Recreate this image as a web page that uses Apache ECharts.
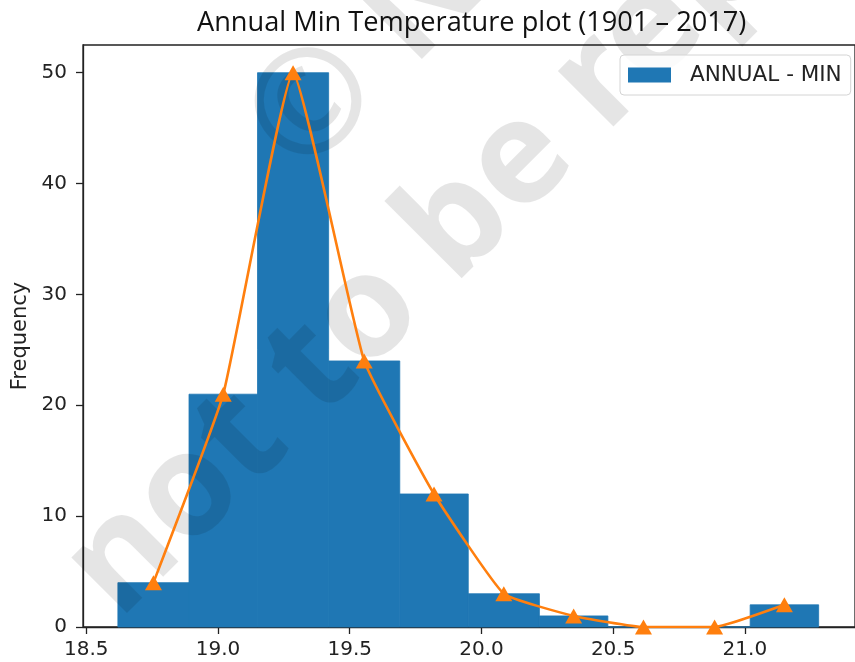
<!DOCTYPE html>
<html>
<head>
<meta charset="utf-8">
<script src="https://cdn.jsdelivr.net/npm/echarts@6/dist/echarts.min.js"></script>
<style>
  html, body { margin: 0; padding: 0; background: #ffffff; }
  #chart { width: 855px; height: 662px; }
</style>
</head>
<body>
<div id="chart"></div>
<script>
// Histogram of annual minimum temperature, 1901–2017 (10 bins)
const binStarts = [18.62, 18.89, 19.15, 19.42, 19.69, 19.95, 20.22, 20.48, 20.75, 21.02];
const binEnds   = [18.89, 19.15, 19.42, 19.69, 19.95, 20.22, 20.48, 20.75, 21.02, 21.28];
const frequencies = [4, 21, 50, 24, 12, 3, 1, 0, 0, 2];

// Frequency polygon through the bin mid-points
const polygonX = [18.755, 19.02, 19.285, 19.555, 19.82, 20.085, 20.35, 20.615, 20.885, 21.15];
const polygonY = [4, 21, 50, 24, 12, 3, 1, 0, 0, 2];

const xTicks = [18.5, 19.0, 19.5, 20.0, 20.5, 21.0];
const yTicks = [0, 10, 20, 30, 40, 50];

const titleText = 'Annual Min Temperature plot (1901 – 2017)';
const seriesName = 'ANNUAL - MIN';
const yAxisName = 'Frequency';
const stampTop = '© NCERT';
const stampBottom = 'not to be republished';

const histData = binStarts.map((s, i) => [s, binEnds[i], frequencies[i]]);
const lineData = polygonX.map((x, i) => [x, polygonY[i]]);

const BLUE = '#1f77b4';
const ORANGE = '#ff7f0e';
const INK = '#222222';
const tickFont = { fontFamily: 'DejaVu Sans', fontSize: 20, color: INK };

// Diagonal stamp: placed so chosen glyphs sit at given page points
const STAMP_FONT = 'bold 144px "Noto Sans"';
const STAMP_ANGLE = 45 * Math.PI / 180;
const measureCtx = document.createElement('canvas').getContext('2d');
measureCtx.font = STAMP_FONT;
const textW = s => measureCtx.measureText(s).width;
const dirX = Math.cos(STAMP_ANGLE), dirY = -Math.sin(STAMP_ANGLE);
function stampOrigin(cx, cy, before, glyph) {
  const along = textW(before) + textW(glyph) / 2;
  return [cx - dirX * along, cy - dirY * along];
}
const topOrigin = stampOrigin(315, 108, '', '©');
const bottomOrigin = stampOrigin(367, 315, 'not t', 'o');

function stampText(origin, text) {
  return {
    type: 'text',
    x: origin[0],
    y: origin[1],
    rotation: STAMP_ANGLE,
    z: 2.5,
    silent: true,
    style: {
      text: text,
      font: STAMP_FONT,
      fill: 'rgba(0,0,0,0.1)',
      textAlign: 'left',
      textVerticalAlign: 'middle',
      verticalAlign: 'middle'
    }
  };
}

const chart = echarts.init(document.getElementById('chart'), null, { renderer: 'canvas' });

chart.setOption({
  animation: false,
  backgroundColor: '#ffffff',
  title: {
    text: titleText,
    left: 192,
    top: 5,
    textStyle: { fontFamily: 'Open Sans', fontWeight: 'normal', fontSize: 27.2, color: '#111111' }
  },
  legend: {
    data: [{ name: seriesName, icon: 'rect' }],
    left: 620,
    top: 55,
    orient: 'vertical',
    padding: [9, 9, 9, 8],
    itemWidth: 43,
    itemHeight: 15,
    borderColor: '#d4d4d4',
    borderWidth: 1,
    borderRadius: 4,
    backgroundColor: 'rgba(255,255,255,0.85)',
    textStyle: { fontFamily: 'DejaVu Sans', fontSize: 21.5, color: INK, padding: [0, 0, 0, 14] },
    z: 10
  },
  grid: {
    left: 83,
    top: 45,
    right: -11,
    bottom: 35,
    show: true,
    borderColor: INK,
    borderWidth: 1.3,
    backgroundColor: 'transparent'
  },
  xAxis: {
    type: 'value',
    min: 18.4876,
    max: 21.418,
    splitLine: { show: false },
    axisLine: { show: true, lineStyle: { color: INK, width: 1.3 } },
    axisTick: { show: true, length: 7, lineStyle: { color: INK, width: 1.3 }, customValues: xTicks },
    axisLabel: { margin: 13, customValues: xTicks, formatter: v => v.toFixed(1), ...tickFont }
  },
  yAxis: {
    type: 'value',
    min: 0,
    max: 52.5,
    name: yAxisName,
    nameLocation: 'middle',
    nameRotate: 90,
    nameGap: 50,
    nameTextStyle: { fontFamily: 'DejaVu Sans', fontSize: 21, color: INK },
    splitLine: { show: false },
    axisLine: { show: true, lineStyle: { color: INK, width: 1.3 } },
    axisTick: { show: true, length: 7, lineStyle: { color: INK, width: 1.3 }, customValues: yTicks },
    axisLabel: { margin: 16, customValues: yTicks, ...tickFont }
  },
  series: [
    {
      name: seriesName,
      type: 'custom',
      itemStyle: { color: BLUE },
      encode: { x: [0, 1], y: 2 },
      data: histData,
      renderItem: function (params, api) {
        const topLeft = api.coord([api.value(0), api.value(2)]);
        const bottomRight = api.coord([api.value(1), 0]);
        return {
          type: 'rect',
          shape: {
            x: topLeft[0],
            y: topLeft[1],
            width: bottomRight[0] - topLeft[0],
            height: bottomRight[1] - topLeft[1]
          },
          style: { fill: BLUE, stroke: BLUE, lineWidth: 0.8 }
        };
      },
      z: 2
    },
    {
      name: 'polygon',
      type: 'line',
      data: lineData,
      smooth: 0.12,
      symbol: 'triangle',
      symbolSize: [17, 15],
      lineStyle: { color: ORANGE, width: 2.6 },
      itemStyle: { color: ORANGE },
      z: 3
    }
  ],
  graphic: [
    stampText(topOrigin, stampTop),
    stampText(bottomOrigin, stampBottom)
  ]
});
</script>
</body>
</html>
